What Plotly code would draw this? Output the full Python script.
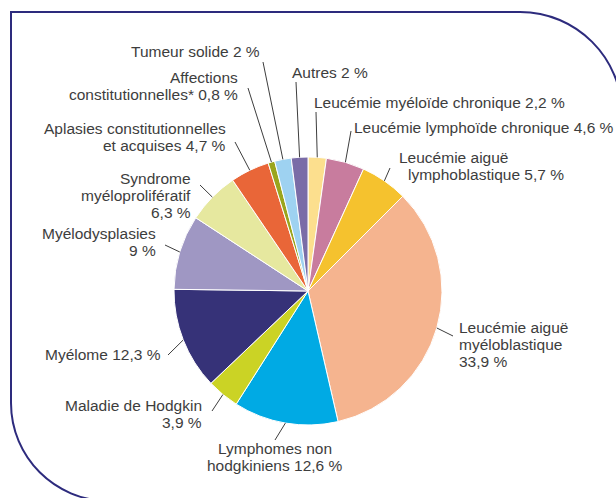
import plotly.graph_objects as go
import numpy as np

# --- data ---
categories = [
    "Leucémie myéloïde chronique", "Leucémie lymphoïde chronique",
    "Leucémie aiguë lymphoblastique", "Leucémie aiguë myéloblastique",
    "Lymphomes non hodgkiniens", "Maladie de Hodgkin", "Myélome",
    "Myélodysplasies", "Syndrome myéloprolifératif",
    "Aplasies constitutionnelles et acquises", "Affections constitutionnelles*",
    "Tumeur solide", "Autres",
]
values = [2.2, 4.6, 5.7, 33.9, 12.6, 3.9, 12.3, 9, 6.3, 4.7, 0.8, 2, 2]
colors = ["#FCDF8E", "#C87C9E", "#F5C22E", "#F5B48F", "#00AAE4", "#CBD325",
          "#363278", "#9F97C3", "#E6E89F", "#E96638", "#9AA51D", "#9ED2F1", "#7A6CA7"]

# label text, one list of lines per slice ({v} -> value)
label_lines = [
    ["Leucémie myéloïde chronique {v}"],
    ["Leucémie lymphoïde chronique {v}"],
    ["Leucémie aiguë", "lymphoblastique {v}"],
    ["Leucémie aiguë", "myéloblastique", "{v}"],
    ["Lymphomes non", "hodgkiniens {v}"],
    ["Maladie de Hodgkin", "{v}"],
    ["Myélome {v}"],
    ["Myélodysplasies", "{v}"],
    ["Syndrome", "myéloprolifératif", "{v}"],
    ["Aplasies constitutionnelles", "et acquises {v}"],
    ["Affections", "constitutionnelles* {v}"],
    ["Tumeur solide {v}"],
    ["Autres {v}"],
]

# --- layout helpers (pixel space) ---
W, H = 616, 498
CX, CY, R = 308, 291, 134
INK = "#3d3d3d"
LINE_H = 17

# label anchor: x, y of first line, xanchor, per-line x offsets
label_pos = [
    (312, 102, "left", None),
    (352, 127, "left", None),
    (397, 157, "left", [0, 9]),
    (457, 327, "left", None),
    (275, 448, "center", None),
    (204, 405, "right", None),
    (163, 354, "right", None),
    (158, 233, "right", None),
    (193, 178, "right", None),
    (228, 128, "right", None),
    (240, 77, "right", None),
    (262, 51, "right", None),
    (290, 72, "left", None),
]
# outer end of each leader line
leader_end = [(316, 112), (351, 131), (390, 168), (453, 336), (275, 440),
              (212, 411), (168, 355), (165, 245), (200, 185), (235, 142),
              (248, 88), (263, 62), (296, 82)]


def fmt(v):
    return f"{v:g}".replace(".", ",") + " %"


fig = go.Figure()
fig.add_trace(go.Pie(
    labels=categories, values=values, sort=False, direction="clockwise",
    rotation=0, marker=dict(colors=colors, line=dict(color="white", width=1)),
    textinfo="none", showlegend=False,
    domain=dict(x=[(CX - R) / W, (CX + R) / W], y=[1 - (CY + R) / H, 1 - (CY - R) / H]),
))

annotations = []
shapes = []
total = sum(values)
cum = 0
for i, v in enumerate(values):
    mid = (cum + v / 2) / total * 2 * np.pi
    cum += v
    x0, y0 = CX + R * np.sin(mid), CY - R * np.cos(mid)
    x1, y1 = leader_end[i]
    shapes.append(dict(type="line", xref="x", yref="y", x0=x0, y0=y0, x1=x1, y1=y1,
                       line=dict(color=INK, width=1)))
    lx, ly, anchor, offs = label_pos[i]
    for j, line in enumerate(label_lines[i]):
        dx = offs[j] if offs else 0
        annotations.append(dict(
            x=lx + dx, y=ly + j * LINE_H, xref="x", yref="y",
            text=line.format(v=fmt(v)), showarrow=False,
            xanchor=anchor, yanchor="middle",
            font=dict(family="Liberation Sans, Arial, sans-serif", size=15.5, color=INK),
        ))

# frame: square top-left corner, rounded top-right and bottom-left
k = 0.5523
r1, r2 = 102, 98
frame = (f"M {109},{403 + r2} C {109 - k * r2},{403 + r2} 11,{403 + k * r2} 11,403 "
         f"L 11,12 L 520,12 C {520 + k * r1},12 {520 + r1},{114 - k * r1} {520 + r1},114")
shapes.insert(0, dict(type="path", xref="x", yref="y", path=frame,
                      line=dict(color="#2d2b7d", width=2), layer="below"))

fig.update_layout(
    width=W, height=H, margin=dict(l=0, r=0, t=0, b=0),
    paper_bgcolor="white", plot_bgcolor="white",
    xaxis=dict(range=[0, W], visible=False, fixedrange=True),
    yaxis=dict(range=[H, 0], visible=False, fixedrange=True),
    shapes=shapes, annotations=annotations,
)

# page body has a default 8px margin; drop it so the figure fills the window
fig.write_html("out.html", config={"displayModeBar": False},
               post_script="document.body.style.margin = '0';")
